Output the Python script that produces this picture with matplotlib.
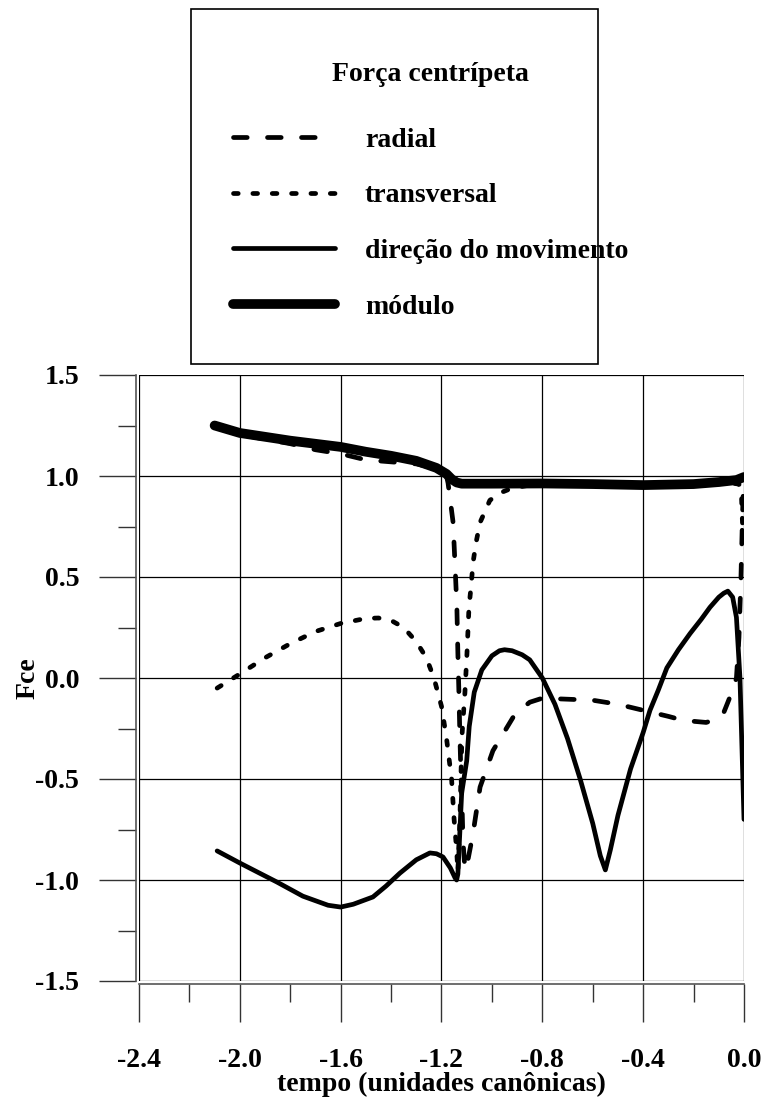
import matplotlib
matplotlib.use("Agg")
import matplotlib.pyplot as plt
from matplotlib.patches import Rectangle
from matplotlib.ticker import MultipleLocator, FormatStrFormatter

plt.rcParams['font.family'] = ['Liberation Serif', 'DejaVu Serif']
plt.rcParams['font.weight'] = 'bold'

# ---------------- data ----------------
t_mod = [-2.10, -2.00, -1.80, -1.60, -1.50, -1.40, -1.30, -1.22, -1.18, -1.16,
         -1.14, -1.12, -1.00, -0.80, -0.60, -0.40, -0.20, -0.10, -0.03, 0.00]
v_mod = [1.25, 1.213, 1.175, 1.144, 1.12, 1.10, 1.075, 1.04, 1.01, 0.985,
         0.968, 0.962, 0.962, 0.963, 0.960, 0.955, 0.960, 0.970, 0.980, 0.995]

t_rad = [-2.10, -2.00, -1.80, -1.70, -1.60, -1.50, -1.45, -1.40, -1.30, -1.25,
         -1.20, -1.18, -1.174, -1.154, -1.146, -1.139, -1.135, -1.131, -1.127,
         -1.123, -1.119, -1.115, -1.107, -1.095, -1.075, -1.047, -0.996, -0.909,
         -0.85, -0.80, -0.60, -0.50, -0.40, -0.30, -0.24, -0.15, -0.10, -0.08,
         -0.064, -0.045, -0.030, -0.020, -0.012, -0.006, -0.002]
v_rad = [1.245, 1.205, 1.16, 1.13, 1.11, 1.08, 1.075, 1.07, 1.06, 1.045,
         1.03, 1.00, 0.965, 0.77, 0.55, 0.35, 0.12, -0.07, -0.29,
         -0.47, -0.60, -0.80, -0.95, -0.90, -0.77, -0.54, -0.36, -0.18,
         -0.12, -0.10, -0.11, -0.13, -0.16, -0.19, -0.21, -0.22, -0.20, -0.17,
         -0.12, -0.06, 0.00, 0.20, 0.50, 0.80, 0.97]

t_tra = [-2.09, -2.00, -1.90, -1.80, -1.70, -1.60, -1.50, -1.45, -1.40, -1.35,
         -1.30, -1.26, -1.23, -1.20, -1.18, -1.16, -1.15, -1.14, -1.135, -1.127,
         -1.119, -1.107, -1.099, -1.091, -1.083, -1.075, -1.063, -1.047, -1.008,
         -0.96, -0.92, -0.85, -0.60, -0.40, -0.20, -0.05, -0.02, -0.01, -0.004]
v_tra = [-0.05, 0.02, 0.10, 0.17, 0.23, 0.27, 0.295, 0.297, 0.285, 0.25,
         0.18, 0.10, 0.00, -0.14, -0.30, -0.50, -0.70, -0.85, -0.96, -0.70,
         -0.29, -0.07, 0.12, 0.35, 0.45, 0.57, 0.67, 0.77, 0.88,
         0.92, 0.94, 0.955, 0.955, 0.950, 0.955, 0.965, 0.96, 0.90, 0.70]

t_dir = [-2.09, -2.00, -1.90, -1.853, -1.75, -1.65, -1.60, -1.55, -1.472, -1.42,
         -1.365, -1.30, -1.246, -1.22, -1.194, -1.165, -1.146, -1.14, -1.135,
         -1.12, -1.10, -1.09, -1.07, -1.04, -1.00, -0.97, -0.95, -0.92, -0.88,
         -0.85, -0.80, -0.75, -0.70, -0.65, -0.60, -0.57, -0.55, -0.53, -0.50,
         -0.45, -0.40, -0.373, -0.34, -0.306, -0.26, -0.214, -0.17, -0.135,
         -0.10, -0.08, -0.064, -0.045, -0.030, -0.016, -0.008, 0.00]
v_dir = [-0.856, -0.916, -0.98, -1.01, -1.08, -1.125, -1.134, -1.12, -1.084, -1.03,
         -0.966, -0.90, -0.866, -0.87, -0.886, -0.94, -0.99, -1.00, -0.97,
         -0.57, -0.41, -0.24, -0.07, 0.04, 0.11, 0.135, 0.14, 0.135, 0.115,
         0.09, 0.00, -0.13, -0.30, -0.50, -0.72, -0.88, -0.95, -0.85, -0.68,
         -0.45, -0.27, -0.16, -0.06, 0.05, 0.14, 0.22, 0.29, 0.35,
         0.40, 0.42, 0.43, 0.40, 0.30, 0.00, -0.35, -0.70]

labels = ['radial', 'transversal', 'direção do movimento', 'módulo']
legend_title = 'Força centrípeta'
xlabel = 'tempo (unidades canônicas)'
ylabel = 'Fce'

# ---------------- figure ----------------
W, H = 765, 1106
fig = plt.figure(figsize=(W / 100, H / 100), dpi=100)
ax = fig.add_axes([139 / W, 1 - 981 / H, (744 - 139) / W, (981 - 375) / H])

FS = 20
l1, = ax.plot(t_rad, v_rad, color='black', lw=3.4, linestyle=(0, (2.9, 4.3)),
              dash_capstyle='round', solid_joinstyle='round')
l2, = ax.plot(t_tra, v_tra, color='black', lw=3.4, linestyle=(0, (1.0, 3.1)),
              dash_capstyle='round', solid_joinstyle='round')
l3, = ax.plot(t_dir, v_dir, color='black', lw=3.4, solid_capstyle='round',
              solid_joinstyle='round')
l4, = ax.plot(t_mod, v_mod, color='black', lw=7.0, solid_capstyle='round',
              solid_joinstyle='round')

ax.set_xlim(-2.4, 0.0)
ax.set_ylim(-1.5, 1.5)
ax.xaxis.set_major_locator(MultipleLocator(0.4))
ax.xaxis.set_minor_locator(MultipleLocator(0.2))
ax.yaxis.set_major_locator(MultipleLocator(0.5))
ax.yaxis.set_minor_locator(MultipleLocator(0.25))
ax.xaxis.set_major_formatter(FormatStrFormatter('%.1f'))
ax.yaxis.set_major_formatter(FormatStrFormatter('%.1f'))

ax.grid(True, which='major', color='black', lw=0.9)
ax.set_axisbelow(True)

for s in ['top', 'right']:
    ax.spines[s].set_visible(False)
ax.spines['bottom'].set_position(('outward', 2))
ax.spines['left'].set_position(('outward', 2))
for s in ['bottom', 'left']:
    ax.spines[s].set_color('#555555')
    ax.spines[s].set_linewidth(1.2)

ax.tick_params(axis='both', which='major', direction='out', length=27, width=1,
               color='#333333', labelsize=FS)
ax.tick_params(axis='x', which='major', pad=19.5)
ax.tick_params(axis='y', which='major', pad=14)
ax.tick_params(axis='both', which='minor', direction='out', length=13, width=1,
               color='#333333')
for lab in ax.get_xticklabels() + ax.get_yticklabels():
    lab.set_fontweight('bold')

ax.set_xlabel(xlabel, fontsize=FS, fontweight='bold', labelpad=-1)
ax.set_ylabel(ylabel, fontsize=FS, fontweight='bold', labelpad=-4)

# legend box
fig.patches.append(Rectangle((191 / W, 1 - 364 / H), 407 / W, 355 / H,
                             transform=fig.transFigure, facecolor='white',
                             edgecolor='black', lw=1.2, zorder=0))
leg = fig.legend([l1, l2, l3, l4], labels, loc='upper left',
                 bbox_to_anchor=(233 / W, 1 - 62 / H), frameon=False,
                 borderpad=0, borderaxespad=0, handlelength=3.67,
                 handletextpad=1.08, labelspacing=1.09,
                 prop={'size': FS, 'weight': 'bold'},
                 title=legend_title,
                 title_fontproperties={'size': FS, 'weight': 'bold'})
leg._legend_box.sep = 29

fig.savefig('out.png', dpi=100)
